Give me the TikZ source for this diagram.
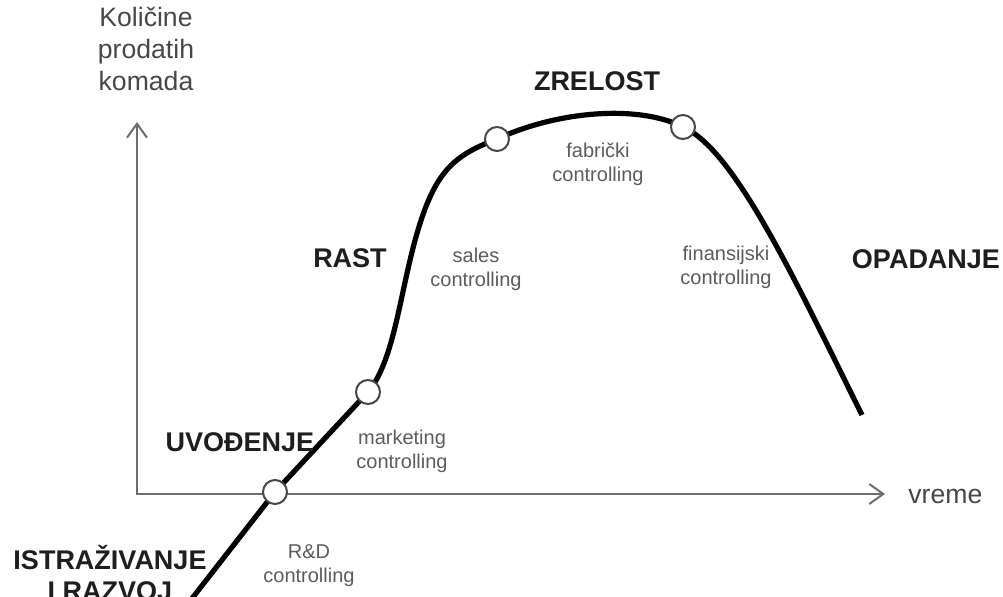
\documentclass[tikz,border=0pt]{standalone}
\usepackage{fontspec}
\setmainfont{Liberation Sans}
\usetikzlibrary{arrows.meta,positioning}
\definecolor{plcink}{HTML}{1E1E1E}
\definecolor{plcsec}{HTML}{474747}
\definecolor{plcctl}{HTML}{5C5C5C}
\definecolor{plcaxis}{HTML}{6E6E6E}
\tikzset{
  phase/.style={font=\fontsize{13.5}{15.5}\selectfont\bfseries,text=plcink,align=center,inner sep=0pt},
  ctrl/.style={font=\fontsize{10}{12}\selectfont,text=plcctl,align=center,inner sep=0pt},
  axlab/.style={font=\fontsize{13.3}{16}\selectfont,text=plcsec,align=center,inner sep=0pt},
  axise/.style={{Straight Barb[length=7pt,width=10pt]}-{Straight Barb[length=7pt,width=10pt]},line width=1pt,draw=plcaxis},
  lifee/.style={line width=2.6pt,draw=black,line join=round},
  knot/.style={circle,draw=plcsec,line width=1pt,fill=white,minimum size=12pt,inner sep=0pt},
}

\begin{document}
\begin{tikzpicture}[x=0.5pt,y=-0.5pt]
  \useasboundingbox[fill=white] (0,0) rectangle (1003,597);

  % ---------- axes ----------
  \coordinate (o) at (137,494);
  \coordinate (ytip) at (137,122);
  \coordinate (xtip) at (885,494);
  \draw[axise] (ytip) -- (o) -- (xtip);
  \node[axlab] (ylab) at (146,49) {Količine\\prodatih\\komada};
  \node[axlab,anchor=west] (xlab) at (908,496) {vreme};

  % ---------- life cycle curve ----------
  \coordinate (p0) at (183,610);
  \coordinate (k1) at (275,492);
  \coordinate (k2) at (368,392);
  \coordinate (p1) at (418,230);
  \coordinate (k3) at (497,139);
  \coordinate (k4) at (683,127);
  \coordinate (p2) at (862,415);
  \draw[lifee] (p0) -- (k1) -- (k2)
    .. controls (395,360) and (400,290) .. (p1)
    .. controls (436,170) and (455,155) .. (k3)
    .. controls (560,110) and (640,105) .. (k4)
    .. controls (735,150) and (795,280) .. (p2);
  \foreach \k in {k1,k2,k3,k4}
    \node[knot] (n\k) at (\k) {};

  % ---------- phases ----------
  \node[phase] (istr) at (110,573) {ISTRAŽIVANJE\\I RAZVOJ};
  \node[phase] (uvod) at (240,442) {UVOĐENJE};
  \node[phase] (rast) at (350,258) {RAST};
  \node[phase] (zrel) at (597,81) {ZRELOST};
  \node[phase] (opad) at (926,259) {OPADANJE};

  % ---------- controlling ----------
  \node[ctrl] (rnd) at (309,566) {R\&D\\controlling};
  \node[ctrl] (mkt) at (402,451) {marketing\\controlling};
  \node[ctrl] (sales) at (476,269) {sales\\controlling};
  \node[ctrl] (fab) at (598,164) {fabrički\\controlling};
  \node[ctrl] (fin) at (726,267) {finansijski\\controlling};
\end{tikzpicture}
\end{document}
